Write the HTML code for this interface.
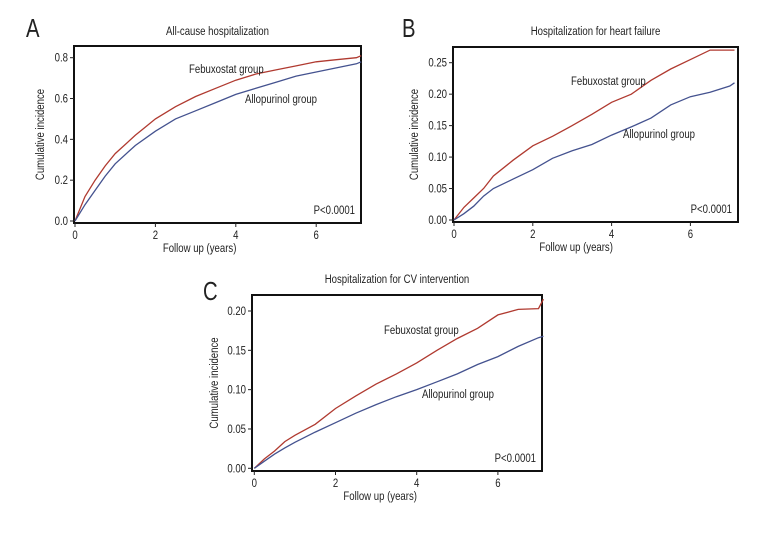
<!DOCTYPE html>
<html><head><meta charset="utf-8"><style>
body{margin:0;background:#fff}
svg text{font-family:"Liberation Sans Narrow","Liberation Sans",sans-serif;fill:#222}
</style></head><body>
<svg id="s" width="780" height="528"></svg>
<script>
const times=[0,0.25,0.5,0.75,1,1.5,2,2.5,3,3.5,4,4.5,5,5.5,6,6.5,7,7.12];
const aFeb=[0,0.12,0.2,0.27,0.33,0.42,0.5,0.56,0.61,0.65,0.69,0.72,0.74,0.76,0.78,0.79,0.8,0.81];
const aAllo=[0,0.08,0.15,0.22,0.28,0.37,0.44,0.5,0.54,0.58,0.62,0.65,0.68,0.71,0.73,0.75,0.77,0.78];
const bFeb=[0,0.02,0.035,0.05,0.07,0.095,0.118,0.133,0.15,0.168,0.187,0.2,0.222,0.24,0.255,0.27,0.27,0.27];
const bAllo=[0,0.01,0.022,0.038,0.05,0.065,0.08,0.098,0.11,0.12,0.135,0.148,0.162,0.183,0.196,0.203,0.213,0.218];
const cFeb=[0,0.012,0.022,0.034,0.042,0.056,0.076,0.092,0.107,0.12,0.134,0.15,0.165,0.178,0.195,0.202,0.203,0.215];
const cAllo=[0,0.009,0.018,0.026,0.033,0.046,0.058,0.07,0.081,0.091,0.1,0.11,0.12,0.132,0.142,0.155,0.166,0.168];
const xTicks=[0,2,4,6];
const aTicks=["0.0","0.2","0.4","0.6","0.8"];
const bTicks=["0.00","0.05","0.10","0.15","0.20","0.25"];
const cTicks=["0.00","0.05","0.10","0.15","0.20"];
const NS="http://www.w3.org/2000/svg";
const svg=document.getElementById('s');
function el(t,a,p){const e=document.createElementNS(NS,t);for(const k in a)e.setAttribute(k,a[k]);(p||svg).appendChild(e);return e;}
function txt(g,x,y,size,anchor,content,rot,sx){
 const e=el('text',{x:0,y:0,'font-size':size,'text-anchor':anchor,transform:`translate(${x} ${y}) rotate(${rot||0}) scale(${sx||0.8} 1)`},g);
 e.textContent=content;return e;}
function panel(o){
 const g=el('g',{});
 
 
 const X=v=>o.x0+v*o.xs, Y=v=>o.y0-(v/o.ymax)*(o.y0-o.ytop);
 const L=txt(g,o.lx,o.ly,26,'start',o.letter,0,0.78);
 
 const T=txt(g,(o.bx1+o.bx2)/2,o.ty,12,'middle',o.title);
 
 const B=el('rect',{x:o.bx1,y:o.by1,width:o.bx2-o.bx1,height:o.by2-o.by1,fill:'none',stroke:'#111','stroke-width':2},g);
 
 xTicks.forEach(t=>{el('line',{x1:X(t),x2:X(t),y1:o.by2,y2:o.by2+4,stroke:'#222'},g);
  const e=txt(g,X(t),o.by2+16,12,'middle',String(t));
  });
 o.ticks.forEach(t=>{const v=parseFloat(t);el('line',{x1:o.bx1-4,x2:o.bx1,y1:Y(v),y2:Y(v),stroke:'#222'},g);
  const e=txt(g,o.bx1-6,Y(v)+4,12,'end',t);
  });
 const xt=txt(g,X(3.1),o.by2+29,12,'middle','Follow up (years)');
 
 const ym=(o.by1+o.by2)/2;
 const yt=txt(g,o.yx,ym,12,'middle','Cumulative incidence',-90);
 
 [[o.feb,'#b03a30','febuxostat-line'],[o.allo,'#44528f','allopurinol-line']].forEach(([d,c,n])=>{
  let p='';d.forEach((v,i)=>{p+=(i?'L':'M')+X(times[i]).toFixed(1)+','+Y(v).toFixed(1);});
  const pa=el('path',{d:p,fill:'none',stroke:c,'stroke-width':1.3},g);
  });
 const f=txt(g,o.fx,o.fy,12,'start','Febuxostat group');
 
 const a=txt(g,o.ax,o.ay,12,'start','Allopurinol group');
 
 const pv=txt(g,o.bx2-6,o.by2-9,12,'end','P<0.0001');
 
}
panel({id:'a',letter:'A',lx:26,ly:37,title:'All-cause hospitalization',ty:35,bx1:74,bx2:361,by1:46,by2:223,x0:75,xs:40.2,y0:221,ytop:57.7,ymax:0.8,ticks:aTicks,feb:aFeb,allo:aAllo,yx:44,fx:189,fy:73,ax:245,ay:103});
panel({id:'b',letter:'B',lx:402,ly:37,title:'Hospitalization for heart failure',ty:35,bx1:453,bx2:738,by1:47,by2:222,x0:454,xs:39.4,y0:220,ytop:62.7,ymax:0.25,ticks:bTicks,feb:bFeb,allo:bAllo,yx:418,fx:571,fy:85,ax:623,ay:138});
panel({id:'c',letter:'C',lx:203,ly:300,title:'Hospitalization for CV intervention',ty:283,bx1:252,bx2:542,by1:295,by2:471,x0:254.3,xs:40.6,y0:468.3,ytop:311,ymax:0.2,ticks:cTicks,feb:cFeb,allo:cAllo,yx:218,fx:384,fy:334,ax:422,ay:398});
</script>
</body></html>
